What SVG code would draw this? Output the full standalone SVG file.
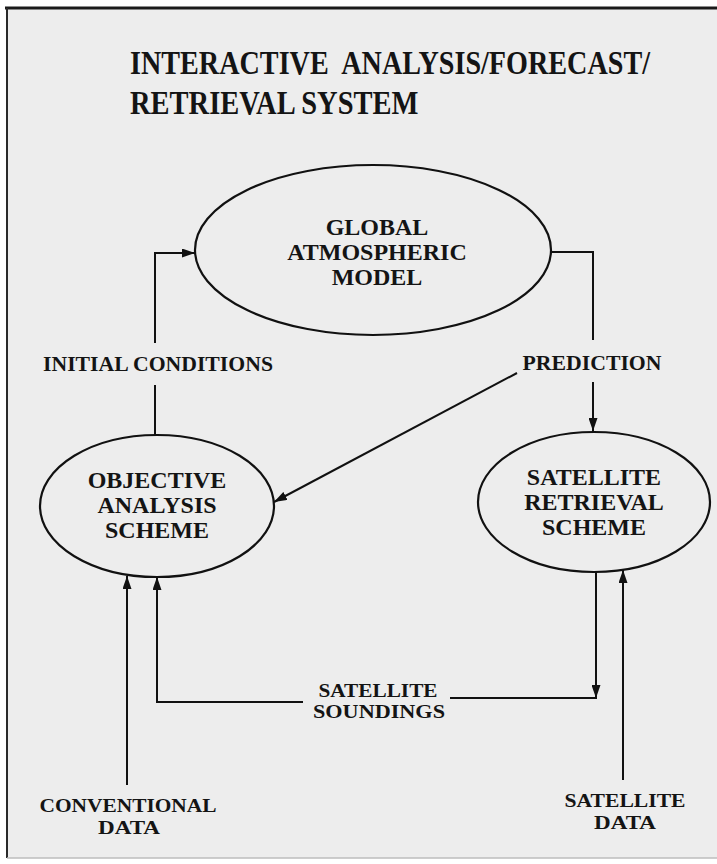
<svg xmlns="http://www.w3.org/2000/svg" width="717" height="864" viewBox="0 0 717 864">
<defs>
<style>
.bg{fill:#ededed}
.node{fill:none;stroke:#111;stroke-width:2.2}
.t{font-family:"Liberation Serif","Times New Roman",serif;font-weight:bold;fill:#141414;text-anchor:middle}
.nt{font-size:24px}
.lb{font-size:21px}
.lb2{font-size:19px}
.title{font-size:34px;text-anchor:start;white-space:pre}
.c{fill:none;stroke:#111;stroke-width:2}
</style>
<marker id="ah" viewBox="0 0 13 9" refX="13" refY="4.5" markerWidth="13" markerHeight="9" markerUnits="userSpaceOnUse" orient="auto">
<path d="M0,0 L13,4.5 L0,9 Z" fill="#111"/>
</marker>
</defs>
<rect x="0" y="0" width="717" height="864" fill="#ffffff"/>
<rect class="bg" x="7" y="8" width="712" height="850"/>
<line x1="5" y1="8" x2="717" y2="8" stroke="#1a1a1a" stroke-width="3"/>
<line x1="7" y1="8" x2="7" y2="858" stroke="#2a2a2a" stroke-width="2"/>
<line x1="7" y1="858" x2="717" y2="858" stroke="#bdbdbd" stroke-width="1.5"/>

<g id="title">
<text class="t title" transform="translate(130,74) scale(0.81,1)" x="0" y="0" textLength="642" lengthAdjust="spacingAndGlyphs" xml:space="preserve">INTERACTIVE  ANALYSIS/FORECAST/</text>
<text class="t title" transform="translate(130,114) scale(0.81,1)" x="0" y="0" textLength="356" lengthAdjust="spacingAndGlyphs">RETRIEVAL SYSTEM</text>
</g>

<g id="connectors">
<line class="c" x1="155" y1="435" x2="155" y2="385"/>
<path class="c" d="M155,343 L155,253 L195,253" marker-end="url(#ah)"/>
<path class="c" d="M552,252 L593,252 L593,340"/>
<path class="c" d="M593,382 L593,431" marker-end="url(#ah)"/>
<path class="c" d="M517,373 L274,502" marker-end="url(#ah)"/>
<path class="c" d="M596,572 L596,698" marker-end="url(#ah)"/>
<line class="c" x1="450" y1="698" x2="597" y2="698"/>
<path class="c" d="M303,702 L157,702 L157,577" marker-end="url(#ah)"/>
<path class="c" d="M127,785 L127,576" marker-end="url(#ah)"/>
<path class="c" d="M623,780 L623,570" marker-end="url(#ah)"/>
</g>

<g id="global-atmospheric-model">
<ellipse class="node" cx="373" cy="250" rx="178" ry="85"/>
<text class="t nt" x="377" y="235">GLOBAL</text>
<text class="t nt" x="377" y="260">ATMOSPHERIC</text>
<text class="t nt" x="377" y="285">MODEL</text>
</g>

<g id="objective-analysis-scheme">
<ellipse class="node" cx="157" cy="506" rx="117" ry="71"/>
<text class="t nt" x="157" y="488">OBJECTIVE</text>
<text class="t nt" x="157" y="513">ANALYSIS</text>
<text class="t nt" x="157" y="538">SCHEME</text>
</g>

<g id="satellite-retrieval-scheme">
<ellipse class="node" cx="594" cy="502" rx="116" ry="70"/>
<text class="t nt" x="594" y="485">SATELLITE</text>
<text class="t nt" x="594" y="510">RETRIEVAL</text>
<text class="t nt" x="594" y="535">SCHEME</text>
</g>

<g id="labels">
<text class="t lb" x="158" y="371" textLength="230" lengthAdjust="spacingAndGlyphs">INITIAL CONDITIONS</text>
<text class="t lb" x="592" y="370" textLength="139" lengthAdjust="spacingAndGlyphs">PREDICTION</text>
<text class="t lb2" x="378" y="697" textLength="119" lengthAdjust="spacingAndGlyphs">SATELLITE</text>
<text class="t lb2" x="379" y="718" textLength="132" lengthAdjust="spacingAndGlyphs">SOUNDINGS</text>
<text class="t lb2" x="128" y="812" textLength="177" lengthAdjust="spacingAndGlyphs">CONVENTIONAL</text>
<text class="t lb2" x="129" y="834" textLength="62" lengthAdjust="spacingAndGlyphs">DATA</text>
<text class="t lb2" x="625" y="807" textLength="121" lengthAdjust="spacingAndGlyphs">SATELLITE</text>
<text class="t lb2" x="625" y="829" textLength="62" lengthAdjust="spacingAndGlyphs">DATA</text>
</g>
</svg>
